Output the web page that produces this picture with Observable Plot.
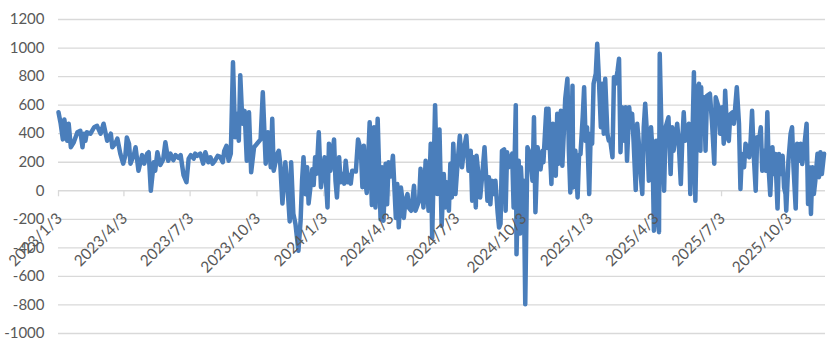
<!DOCTYPE html>
<html>
<head>
<meta charset="utf-8">
<script src="https://cdn.jsdelivr.net/npm/d3@7"></script>
<script src="https://cdn.jsdelivr.net/npm/@observablehq/plot@0.6"></script>
<style>
  html, body { margin: 0; padding: 0; background: #ffffff; }
  #chart { width: 834px; height: 353px; overflow: hidden; }
</style>
</head>
<body>
<div id="chart"></div>
<script>
// ---- data ----
const dates = [
"2023-01-03","2023-01-06","2023-01-09","2023-01-11","2023-01-15","2023-01-17","2023-01-20","2023-01-24","2023-01-29",
"2023-02-02","2023-02-05","2023-02-07","2023-02-09","2023-02-11","2023-02-16","2023-02-21","2023-02-25",
"2023-03-02","2023-03-06","2023-03-11","2023-03-16","2023-03-18","2023-03-22","2023-03-25","2023-03-29",
"2023-04-02","2023-04-05","2023-04-07","2023-04-10","2023-04-12","2023-04-17","2023-04-19","2023-04-23","2023-04-28",
"2023-05-01","2023-05-05","2023-05-07","2023-05-10","2023-05-14","2023-05-16","2023-05-19","2023-05-23","2023-05-27","2023-05-30",
"2023-06-03","2023-06-06","2023-06-10","2023-06-13","2023-06-17","2023-06-20","2023-06-24","2023-06-28",
"2023-07-01","2023-07-04","2023-07-08","2023-07-10","2023-07-13","2023-07-17","2023-07-21","2023-07-24","2023-07-28","2023-07-31",
"2023-08-03","2023-08-06","2023-08-10","2023-08-13","2023-08-17","2023-08-19","2023-08-22","2023-08-25","2023-08-28","2023-08-31",
"2023-09-03","2023-09-06","2023-09-08","2023-09-10","2023-09-13","2023-09-16","2023-09-19","2023-09-22","2023-09-25","2023-09-29",
"2023-10-08","2023-10-11","2023-10-15","2023-10-18","2023-10-22","2023-10-24","2023-10-26","2023-10-31",
"2023-11-02","2023-11-04","2023-11-07","2023-11-11","2023-11-14","2023-11-17","2023-11-19","2023-11-22","2023-11-25","2023-11-29",
"2023-12-02","2023-12-04","2023-12-06","2023-12-09","2023-12-11","2023-12-13","2023-12-16","2023-12-18","2023-12-20","2023-12-22","2023-12-24","2023-12-27","2023-12-30",
"2024-01-04","2024-01-08","2024-01-10","2024-01-12","2024-01-17","2024-01-19","2024-01-21","2024-01-24","2024-01-26","2024-01-29","2024-01-31",
"2024-02-02","2024-02-05","2024-02-07","2024-02-09","2024-02-11","2024-02-16","2024-02-19","2024-02-23","2024-02-25","2024-02-27","2024-02-29",
"2024-03-02","2024-03-06","2024-03-09","2024-03-12","2024-03-14","2024-03-17","2024-03-21","2024-03-23","2024-03-25","2024-03-28","2024-03-30",
"2024-04-01","2024-04-04","2024-04-07","2024-04-11","2024-04-13","2024-04-15","2024-04-18","2024-04-20","2024-04-22","2024-04-24","2024-04-27","2024-04-29",
"2024-05-02","2024-05-04","2024-05-06","2024-05-08","2024-05-13","2024-05-15","2024-05-19","2024-05-22","2024-05-26","2024-05-29","2024-05-31",
"2024-06-04","2024-06-07","2024-06-10","2024-06-13","2024-06-16","2024-06-18","2024-06-20","2024-06-23","2024-06-25","2024-06-27","2024-06-29",
"2024-07-02","2024-07-05","2024-07-08","2024-07-11","2024-07-14","2024-07-17","2024-07-20","2024-07-23","2024-07-25","2024-07-27","2024-07-30","2024-07-31",
"2024-08-03","2024-08-05","2024-08-08","2024-08-11","2024-08-15","2024-08-17","2024-08-19","2024-08-21","2024-08-24","2024-08-26","2024-08-29","2024-08-31",
"2024-09-02","2024-09-04","2024-09-07","2024-09-09","2024-09-11","2024-09-13","2024-09-16","2024-09-18","2024-09-20","2024-09-23","2024-09-24","2024-09-27","2024-09-29","2024-09-30",
"2024-10-02","2024-10-04","2024-10-06","2024-10-09","2024-10-11","2024-10-13","2024-10-16","2024-10-18","2024-10-20","2024-10-23","2024-10-25","2024-10-27","2024-10-30","2024-10-31",
"2024-11-04","2024-11-06","2024-11-07","2024-11-09","2024-11-11","2024-11-13","2024-11-17","2024-11-19","2024-11-21","2024-11-24","2024-11-26","2024-11-28","2024-11-30",
"2024-12-03","2024-12-05","2024-12-07","2024-12-10","2024-12-11","2024-12-14","2024-12-17","2024-12-19","2024-12-21","2024-12-24","2024-12-26","2024-12-28","2024-12-30",
"2025-01-02","2025-01-04","2025-01-06","2025-01-08","2025-01-11","2025-01-13","2025-01-15","2025-01-18","2025-01-20","2025-01-22","2025-01-24","2025-01-27","2025-01-29","2025-01-31",
"2025-02-03","2025-02-05","2025-02-07","2025-02-10","2025-02-12","2025-02-14","2025-02-16","2025-02-19","2025-02-21","2025-02-23","2025-02-26","2025-02-28",
"2025-03-02","2025-03-04","2025-03-07","2025-03-09","2025-03-11","2025-03-14","2025-03-16","2025-03-18","2025-03-20","2025-03-23","2025-03-25","2025-03-28","2025-03-30",
"2025-04-01","2025-04-03","2025-04-04","2025-04-06","2025-04-08","2025-04-09","2025-04-12","2025-04-15","2025-04-17","2025-04-21","2025-04-24","2025-04-26","2025-04-28",
"2025-05-03","2025-05-05","2025-05-08","2025-05-10","2025-05-12","2025-05-14","2025-05-19","2025-05-21","2025-05-24","2025-05-26","2025-05-28","2025-05-31",
"2025-06-02","2025-06-04","2025-06-05","2025-06-06","2025-06-09","2025-06-11","2025-06-13","2025-06-17","2025-06-20","2025-06-23","2025-06-25","2025-06-29",
"2025-07-01","2025-07-04","2025-07-06","2025-07-08","2025-07-11","2025-07-13","2025-07-15","2025-07-18","2025-07-20","2025-07-24","2025-07-27","2025-07-29","2025-07-31",
"2025-08-03","2025-08-05","2025-08-10","2025-08-12","2025-08-14","2025-08-16","2025-08-19","2025-08-21","2025-08-23","2025-08-26","2025-08-28","2025-08-30",
"2025-09-02","2025-09-04","2025-09-06","2025-09-08","2025-09-11","2025-09-13","2025-09-15","2025-09-18","2025-09-20","2025-09-22","2025-09-25","2025-09-27","2025-09-29","2025-09-30",
"2025-10-03","2025-10-06","2025-10-08","2025-10-10","2025-10-13","2025-10-15","2025-10-17","2025-10-20","2025-10-22","2025-10-24","2025-10-28","2025-10-30",
"2025-11-01","2025-11-03","2025-11-05","2025-11-07","2025-11-09","2025-11-12","2025-11-14","2025-11-16","2025-11-18","2025-11-21"
];

const values = [
550,470,360,500,350,470,305,340,410,
420,305,400,350,410,400,445,455,
400,470,350,400,305,330,365,260,
190,250,373,330,190,260,305,140,250,
190,260,270,0,200,140,270,180,220,340,
210,260,215,250,230,250,110,60,
225,250,225,260,245,260,190,270,200,235,
190,210,245,240,200,280,315,210,260,900,
375,540,350,810,470,560,210,550,130,305,
360,690,190,410,165,505,140,260,
280,190,-90,200,25,-215,200,-160,-235,-420,
-210,70,235,-25,165,-90,47,150,40,235,120,410,25,
235,-117,330,140,360,70,-47,235,60,117,50,
210,60,110,50,140,135,360,280,25,315,70,
-15,480,-100,445,-117,505,-200,165,-210,190,-95,
200,100,245,-190,47,-256,23,-60,-190,-80,-23,-120,
-140,-60,35,-140,-70,155,-117,210,-140,330,-330,
600,-23,430,-245,117,-117,60,-140,190,-47,330,
-23,200,385,165,300,385,140,280,-70,235,-117,245,
95,-47,117,305,-70,95,-95,70,-23,70,-150,-257,
-230,280,290,-140,270,165,230,260,-117,600,-445,210,-300,165,
-23,70,-795,305,280,235,70,515,-150,305,240,150,280,200,
575,300,575,280,47,470,105,540,190,560,175,400,645,
785,280,-12,735,23,280,-47,250,257,515,725,350,445,
-23,400,330,750,820,1030,820,445,750,400,785,400,350,350,
235,795,750,840,925,270,585,350,585,210,585,445,
540,350,5,470,350,100,-23,445,610,350,70,445,280,
-280,-93,350,-117,-290,960,280,0,445,515,117,445,280,
470,350,47,350,550,350,470,-23,375,830,-70,725,
750,280,725,470,655,280,665,680,470,190,655,585,
400,585,330,700,375,350,535,550,470,725,470,12,257,
165,330,235,350,560,280,0,375,330,445,140,280,
140,550,140,-30,305,117,257,-125,257,117,245,23,-23,-140,
210,400,445,165,-125,330,210,330,187,270,470,-93,
165,-163,165,-23,70,260,95,270,117,260
];

const xTickLabels = ["2023/1/3","2023/4/3","2023/7/3","2023/10/3","2024/1/3","2024/4/3",
                     "2024/7/3","2024/10/3","2025/1/3","2025/4/3","2025/7/3","2025/10/3"];
const yTicks = [-1000,-800,-600,-400,-200,0,200,400,600,800,1000,1200];
const xStart = "2023-01-03";
const xEnd = "2025-11-23";

// ---- build ----
const parseDay = d3.utcParse("%Y-%m-%d");
const parseTick = d3.utcParse("%Y/%m/%d");
const n = Math.min(dates.length, values.length);
const series = d3.range(n).map(i => ({date: parseDay(dates[i]), value: values[i]}));
const ticks = xTickLabels.map(s => ({date: parseTick(s), label: s}));

const chart = Plot.plot({
  width: 834,
  height: 353,
  marginTop: 19,
  marginRight: 9,
  marginBottom: 20,
  marginLeft: 58,
  style: {fontFamily: "Lato, 'Liberation Sans', sans-serif", background: "#ffffff", color: "#595959"},
  x: {type: "utc", domain: [parseDay(xStart), parseDay(xEnd)], axis: null},
  y: {domain: [-1000, 1200], axis: null},
  marks: [
    Plot.ruleY(yTicks, {stroke: "#d9d9d9", strokeWidth: 1.3}),
    Plot.ruleX(ticks, {x: "date", y1: 0, y2: -42, stroke: "#d9d9d9", strokeWidth: 1.3}),
    Plot.line(series, {x: "date", y: "value", stroke: "#4A7EBB", strokeWidth: 4.5,
                       strokeLinejoin: "round", strokeLinecap: "round"}),
    Plot.axisY(yTicks, {tickSize: 0, tickPadding: 14, fontSize: 15, fill: "#595959", label: null,
                        tickFormat: d => String(d)}),
    Plot.text(ticks, {x: "date", y: 0, text: "label", rotate: -45, textAnchor: "end",
                      lineAnchor: "middle", dx: 1, dy: 25, fontSize: 15.5, fill: "#595959"})
  ]
});
document.getElementById("chart").appendChild(chart);
</script>
</body>
</html>
